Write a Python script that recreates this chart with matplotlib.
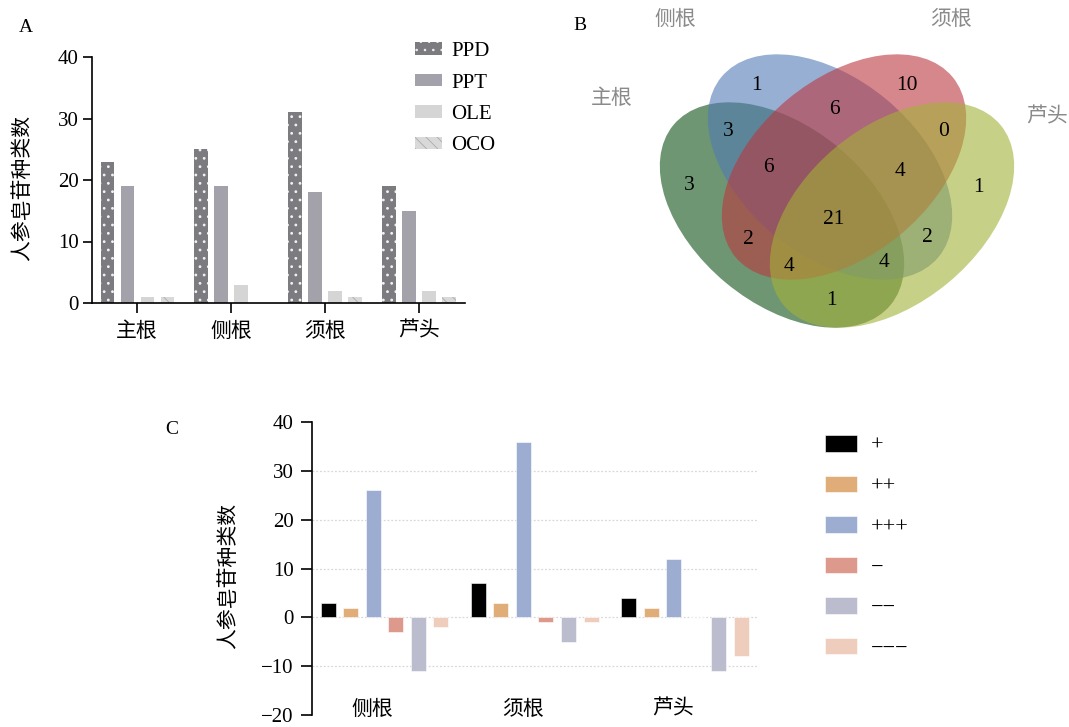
import matplotlib
matplotlib.use("Agg")
from matplotlib import pyplot as plt
from matplotlib.patches import Ellipse
import numpy as np

plt.rcParams['font.family'] = ['Liberation Serif', 'Noto Sans CJK SC']

# ---- Daten Panel A
teile = ["主根", "侧根", "须根", "芦头"]
ppd = [23, 25, 31, 19]
ppt = [19, 19, 18, 15]
ole = [1, 3, 2, 2]
oco = [1, 0, 1, 1]

# ---- Daten Panel B (Venn)
venn_sets = ["主根", "侧根", "须根", "芦头"]
venn_counts = [1, 10, 6, 3, 0, 6, 4, 3, 1, 21, 2, 2, 4, 4, 1]

# ---- Daten Panel C
teile_c = ["侧根", "须根", "芦头"]
stufen = ["+", "++", "+++", "\u2212", "\u2212\u2212", "\u2212\u2212\u2212"]
plus1 = [3, 7, 4]
plus2 = [2, 3, 2]
plus3 = [26, 36, 12]
minus1 = [-3, -1, 0]
minus2 = [-11, -5, -11]
minus3 = [-2, -1, -8]

W, H = 1069, 727
fig = plt.figure(figsize=(W / 100, H / 100), dpi=100)

def fx(px):
    return px / W

def fy(py):
    return 1 - py / H

ylab = "人参皂苷种类数"

# ================= A
axA = fig.add_axes([fx(92), fy(303), fx(465 - 92), (303 - 57) / H])
x = np.arange(len(teile))
b = 0.14
s = 0.213
serien = [ppd, ppt, ole, oco]
namen = ["PPD", "PPT", "OLE", "OCO"]
farben = ["#7c7c80", "#a3a2aa", "#d5d5d5", "#d9d9d9"]
hatches = ["..", None, None, "\\\\\\"]
kanten = ["#f2f2f2", "none", "none", "#ababab"]
hlw = [0.8, 1.0, 1.0, 0.6]
for i, (werte, n) in enumerate(zip(serien, namen)):
    plt.rcParams['hatch.linewidth'] = hlw[i]
    axA.bar(x + (i - 1.5) * s, werte, b, color=farben[i], hatch=hatches[i],
            edgecolor=kanten[i], linewidth=0, label=n)
axA.set_xlim(-0.48, 3.49)
axA.set_ylim(0, 40)
axA.set_yticks([0, 10, 20, 30, 40])
axA.set_xticks(x)
axA.set_xticklabels(teile)
axA.spines['top'].set_visible(False)
axA.spines['right'].set_visible(False)
for sp in ['left', 'bottom']:
    axA.spines[sp].set_linewidth(1.2)
axA.tick_params(axis='y', length=6.5, width=1.2, pad=3, labelsize=15)
axA.tick_params(axis='x', length=7, width=1.2, pad=7, labelsize=15)
axA.set_ylabel(ylab, fontsize=15)
axA.yaxis.set_label_coords(-0.158, 0.467)
axA.legend(loc='upper left', bbox_to_anchor=(fx(415), fy(42)), bbox_transform=fig.transFigure,
           frameon=False, borderpad=0, borderaxespad=0, fontsize=15,
           handlelength=1.3, handleheight=0.53, handletextpad=0.45, labelspacing=0.6)
fig.text(fx(26), fy(27), "A", fontsize=14, ha='center', va='center')

# ================= B
axB = fig.add_axes([fx(560), fy(360), fx(509), 360 / H])
axB.set_xlim(560, 1069)
axB.set_ylim(360, 0)
axB.axis('off')
# Ellipsen: Mitte, Breite, Hoehe, Winkel, Farbe
ell = [((782, 215), 282, 176, 39.7, "#0d5016"),
       ((830, 167), 282, 176, 39.7, "#507ab4"),
       ((844, 167), 282, 176, -39.7, "#bc373f"),
       ((892, 215), 282, 176, -39.7, "#a3b137")]
for (c, w, h, a, col) in ell:
    axB.add_patch(Ellipse(c, w, h, angle=a, facecolor=col, edgecolor='none', alpha=0.6))
venn_pos = [(756, 85), (907, 85), (834, 110), (728, 131), (944, 131), (768, 168),
            (900, 171), (689, 186), (978, 188), (834, 219), (748, 239), (927, 238),
            (789, 267), (884, 263), (831, 301)]
for (px, py), n in zip(venn_pos, venn_counts):
    axB.text(px, py, str(n), fontsize=15.5, ha='center', va='center', color='black')
set_pos = [(612, 99), (675, 20), (951, 20), (1047, 118)]
for (px, py), n in zip(set_pos, venn_sets):
    axB.text(px, py, n, fontsize=15, ha='center', va='center', color='#8a8a8a')
fig.text(fx(580), fy(26), "B", fontsize=14, ha='center', va='center')

# ================= C
axC = fig.add_axes([fx(312), fy(715), fx(757 - 312), (715 - 422) / H])
xc = np.arange(len(teile_c))
bc = 0.10
sc = 0.15
serien_c = [plus1, plus2, plus3, minus1, minus2, minus3]
farben_c = ["#000000", "#e0ac78", "#9dadd1", "#dc998c", "#bcbccf", "#efcdbc"]
for i, werte in enumerate(serien_c):
    axC.bar(xc + (i - 2.5) * sc, werte, bc, color=farben_c[i], edgecolor='white',
            linewidth=0.4, label=stufen[i], zorder=3)
for g in [-10, 0, 10, 20, 30]:
    axC.axhline(g, color='#d8d8d8', lw=0.9, ls=(0, (1.5, 1.5)), zorder=1)
axC.set_xlim(-0.483, 2.48)
axC.set_ylim(-20, 40)
axC.set_yticks([-20, -10, 0, 10, 20, 30, 40])
axC.set_xticks([])
for sp in ['top', 'right', 'bottom']:
    axC.spines[sp].set_visible(False)
axC.spines['left'].set_linewidth(1.2)
axC.tick_params(axis='y', length=8, width=1.2, pad=5, labelsize=15)
for xi, t in zip(xc, teile_c):
    axC.text(xi - 0.08, -19.0, t, fontsize=15, ha='center', va='center')
axC.set_ylabel(ylab, fontsize=15)
axC.yaxis.set_label_coords(-0.164, 0.473)
axC.legend(loc='upper left', bbox_to_anchor=(fx(825), fy(435)), bbox_transform=fig.transFigure,
           frameon=False, borderpad=0, borderaxespad=0, fontsize=16,
           handlelength=1.44, handleheight=0.77, handletextpad=0.63, labelspacing=0.88)
fig.text(fx(172), fy(430), "C", fontsize=14, ha='center', va='center')

fig.savefig("out.png", dpi=100)
